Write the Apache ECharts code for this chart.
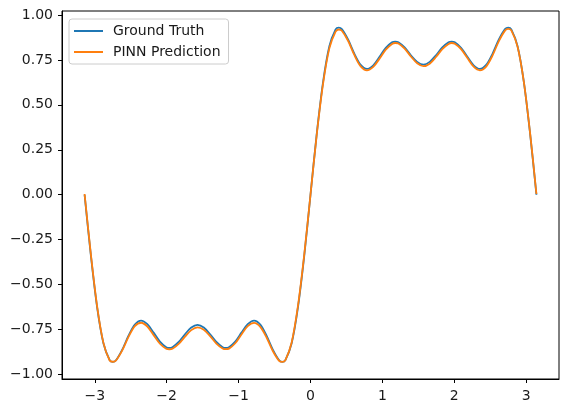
<!DOCTYPE html>
<html>
<head>
<meta charset="utf-8">
<script src="https://cdn.jsdelivr.net/npm/echarts@6/dist/echarts.min.js"></script>
<style>
  html, body { margin: 0; padding: 0; background: #fff; }
  #main { width: 568px; height: 414px; }
</style>
</head>
<body>
<div id="main"></div>
<script>
// x positions (radians)
var xs = [
  -3.142, -3.054, -2.967, -2.880, -2.793, -2.749, -2.705, -2.618, -2.531, -2.443,
  -2.356, -2.269, -2.182, -2.094, -2.007, -1.963, -1.920, -1.833, -1.745, -1.658,
  -1.571, -1.484, -1.396, -1.309, -1.222, -1.178, -1.134, -1.047, -0.960, -0.873,
  -0.785, -0.698, -0.611, -0.524, -0.436, -0.393, -0.349, -0.262, -0.175, -0.087,
  0.000,
  0.087, 0.175, 0.262, 0.349, 0.393, 0.436, 0.524, 0.611, 0.698, 0.785,
  0.873, 0.960, 1.047, 1.134, 1.178, 1.222, 1.309, 1.396, 1.484, 1.571,
  1.658, 1.745, 1.833, 1.920, 1.963, 2.007, 2.094, 2.182, 2.269, 2.356,
  2.443, 2.531, 2.618, 2.705, 2.749, 2.793, 2.880, 2.967, 3.054, 3.142
];

var groundTruth = [
  0.000, -0.340, -0.628, -0.826, -0.920, -0.930, -0.921, -0.862, -0.784, -0.722,
  -0.700, -0.720, -0.767, -0.817, -0.848, -0.852, -0.848, -0.819, -0.776, -0.739,
  -0.724, -0.739, -0.776, -0.819, -0.848, -0.852, -0.848, -0.817, -0.767, -0.720,
  -0.700, -0.722, -0.784, -0.862, -0.921, -0.930, -0.920, -0.826, -0.628, -0.340,
  0.000,
  0.340, 0.628, 0.826, 0.920, 0.930, 0.921, 0.862, 0.784, 0.722, 0.700,
  0.720, 0.767, 0.817, 0.848, 0.852, 0.848, 0.819, 0.776, 0.739, 0.724,
  0.739, 0.776, 0.819, 0.848, 0.852, 0.848, 0.817, 0.767, 0.720, 0.700,
  0.722, 0.784, 0.862, 0.921, 0.930, 0.920, 0.826, 0.628, 0.340, 0.000
];

var pinn = [
  0.004, -0.333, -0.622, -0.824, -0.922, -0.929, -0.922, -0.866, -0.791, -0.731,
  -0.712, -0.733, -0.781, -0.829, -0.857, -0.860, -0.857, -0.830, -0.789, -0.753,
  -0.738, -0.751, -0.787, -0.828, -0.855, -0.859, -0.856, -0.826, -0.777, -0.731,
  -0.713, -0.735, -0.794, -0.869, -0.924, -0.930, -0.920, -0.822, -0.620, -0.333,
  0.000,
  0.335, 0.618, 0.814, 0.907, 0.919, 0.912, 0.855, 0.776, 0.714, 0.692,
  0.711, 0.757, 0.807, 0.839, 0.844, 0.841, 0.813, 0.769, 0.731, 0.715,
  0.729, 0.766, 0.810, 0.839, 0.844, 0.840, 0.810, 0.760, 0.712, 0.692,
  0.713, 0.774, 0.853, 0.913, 0.923, 0.914, 0.823, 0.628, 0.343, 0.004
];

var xTicks = [-3, -2, -1, 0, 1, 2, 3];
var yTicks = [-1, -0.75, -0.5, -0.25, 0, 0.25, 0.5, 0.75, 1];

function pairs(ys) {
  return xs.map(function (x, i) { return [x, ys[i]]; });
}
function minus(s) { return s.replace('-', '\u2212'); }

var myChart = echarts.init(document.getElementById('main'));

var option = {
  animation: false,
  textStyle: { fontFamily: 'DejaVu Sans' },
  grid: {
    left: 62, right: 9, top: 11, bottom: 35,
    show: true, borderColor: '#000', borderWidth: 1, backgroundColor: 'transparent'
  },
  legend: {
    orient: 'vertical',
    left: 69, top: 19,
    padding: [4, 8, 4, 5],
    itemGap: 5,
    itemWidth: 29, itemHeight: 2,
    backgroundColor: 'rgba(255,255,255,0.8)',
    borderColor: '#cccccc', borderWidth: 1, borderRadius: 3,
    textStyle: { fontSize: 14, color: '#1a1a1a', lineHeight: 16, padding: [0, 0, 0, 5], fontFamily: 'DejaVu Sans' },
    data: [
      { name: 'Ground Truth', icon: 'rect' },
      { name: 'PINN Prediction', icon: 'rect' }
    ]
  },
  xAxis: {
    type: 'value',
    min: -3.456, max: 3.456,
    splitLine: { show: false },
    axisLine: { show: true, onZero: false, lineStyle: { color: '#000' } },
    axisTick: { show: true, length: 4, customValues: xTicks, lineStyle: { color: '#000' } },
    axisLabel: {
      customValues: xTicks, margin: 10, fontSize: 14, color: '#1a1a1a',
      formatter: function (v) { return minus(String(v)); }
    }
  },
  yAxis: {
    type: 'value',
    min: -1.025, max: 1.022,
    splitLine: { show: false },
    axisLine: { show: true, onZero: false, lineStyle: { color: '#000' } },
    axisTick: { show: true, length: 4, customValues: yTicks, lineStyle: { color: '#000' } },
    axisLabel: {
      customValues: yTicks, margin: 9, fontSize: 14, color: '#1a1a1a',
      formatter: function (v) { return minus(v.toFixed(2)); }
    }
  },
  series: [
    {
      name: 'Ground Truth', type: 'line', data: pairs(groundTruth),
      showSymbol: false, smooth: 0.3, color: '#1f77b4',
      lineStyle: { width: 1.8, color: '#1f77b4' }
    },
    {
      name: 'PINN Prediction', type: 'line', data: pairs(pinn),
      showSymbol: false, smooth: 0.3, color: '#ff7f0e',
      lineStyle: { width: 1.8, color: '#ff7f0e' }
    }
  ]
};

myChart.setOption(option);
</script>
</body>
</html>
